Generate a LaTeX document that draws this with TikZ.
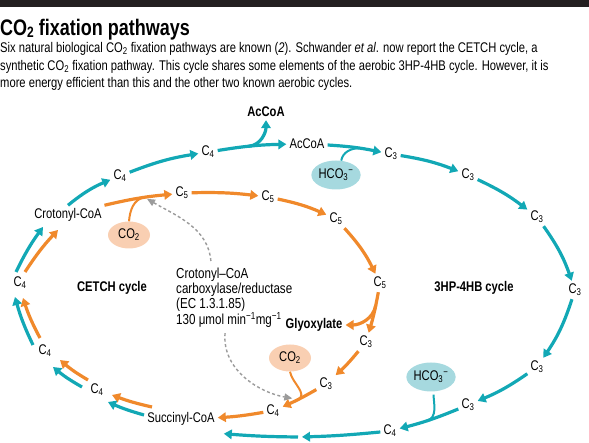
\documentclass[tikz,border=0pt]{standalone}
\usepackage{fontspec}
\setmainfont[FakeStretch=0.8]{Liberation Sans}
\usetikzlibrary{arrows.meta,shapes.geometric,calc}
\definecolor{tealc}{HTML}{12A8B5}
\definecolor{orangec}{HTML}{F0892B}
\definecolor{orfill}{HTML}{F9CFB2}
\definecolor{tefill}{HTML}{A6D9DF}
\definecolor{grayc}{HTML}{9B9B9B}
\definecolor{barc}{HTML}{231F20}
\tikzset{
  lab/.style={font=\fontsize{14}{16}\selectfont, inner sep=3pt},
  blab/.style={font=\fontsize{14}{16}\selectfont\bfseries, inner sep=3pt},
  tarrow/.style={draw=tealc, line width=3.2pt, -{Triangle[length=8pt,width=9.5pt]}},
  oarrow/.style={draw=orangec, line width=3.2pt, -{Triangle[length=8pt,width=9.5pt]}},
  tfeed/.style={draw=tealc, line width=2pt},
  ofeed/.style={draw=orangec, line width=2pt},
  grayarrow/.style={draw=grayc, line width=1.4pt, dash pattern=on 3pt off 2.5pt, -{Triangle[length=8pt,width=7pt]}},
  orell/.style={ellipse, fill=orfill, minimum width=42pt, minimum height=27pt, inner sep=0pt, font=\fontsize{14}{16}\selectfont},
  teell/.style={ellipse, fill=tefill, minimum width=48pt, minimum height=29pt, inner sep=0pt, font=\fontsize{14}{16}\selectfont},
}
\begin{document}
\begin{tikzpicture}[x=1pt,y=1pt]
\useasboundingbox (0,0) rectangle (589,443);
% header
\fill[barc] (0,436) rectangle (589,443);
\node[anchor=base west, inner sep=0pt, font=\fontsize{22.5}{24}\selectfont\bfseries] (title) at (0,407) {CO{\fontsize{15}{15}\selectfont\raisebox{-1.5pt}{2}} fixation pathways};
\node[anchor=north west, inner sep=0pt, align=left, font=\fontsize{14}{17.3}\selectfont] (para) at (0,400.5) {Six natural biological CO\textsubscript{2} fixation pathways are known (\textit{2}). Schwander \textit{et al}. now report the CETCH cycle, a\\synthetic CO\textsubscript{2} fixation pathway. This cycle shares some elements of the aerobic 3HP-4HB cycle. However, it is\\more energy efficient than this and the other two known aerobic cycles.};
% nodes
\node[lab] (crot) at (68,228) {Crotonyl-CoA};
\node[lab] (c4a) at (120,267) {C\textsubscript{4}};
\node[lab] (c4b) at (208,291) {C\textsubscript{4}};
\node[blab] (accoaB) at (266,331) {AcCoA};
\node[lab] (accoa) at (307,299) {AcCoA};
\node[lab] (c3a) at (391,289) {C\textsubscript{3}};
\node[teell] (hco3a) at (336,268) {HCO\textsubscript{3}\textsuperscript{−}};
\node[lab] (c3b) at (468,268) {C\textsubscript{3}};
\node[lab] (c3c) at (537,226) {C\textsubscript{3}};
\node[lab] (c3d) at (575,153) {C\textsubscript{3}};
\node[lab] (c3e) at (537,76) {C\textsubscript{3}};
\node[lab] (c3f) at (468,38) {C\textsubscript{3}};
\node[teell] (hco3b) at (431,66) {HCO\textsubscript{3}\textsuperscript{−}};
\node[lab] (c4c) at (390,12) {C\textsubscript{4}};
\coordinate (mid) at (300,6);
\node[lab] (succ) at (181,24) {Succinyl-CoA};
\node[lab] (c4d) at (273,32) {C\textsubscript{4}};
\node[lab] (c3g) at (326,59) {C\textsubscript{3}};
\node[lab] (c3h) at (366,101) {C\textsubscript{3}};
\node[orell] (co2b) at (290,85) {CO\textsubscript{2}};
\node[blab] (glyox) at (314,118) {Glyoxylate};
\node[lab] (c5a) at (380,160) {C\textsubscript{5}};
\node[lab] (c5b) at (336,224) {C\textsubscript{5}};
\node[lab] (c5c) at (268,246) {C\textsubscript{5}};
\node[lab] (c5d) at (182,250) {C\textsubscript{5}};
\node[orell] (co2a) at (129,208) {CO\textsubscript{2}};
\node[lab] (c4L) at (20,160) {C\textsubscript{4}};
\node[lab] (c4m) at (45,92) {C\textsubscript{4}};
\node[lab] (c4n) at (97,53) {C\textsubscript{4}};
\node[blab] (cetch) at (112,155) {CETCH cycle};
\node[blab] (hp4) at (474,155) {3HP-4HB cycle};
\node[lab, align=left, anchor=north west, font=\fontsize{14.5}{15}\selectfont] (enz) at (173,178) {Crotonyl–CoA\\carboxylase/reductase\\(EC 1.3.1.85)\\130 μmol min\textsuperscript{−1}mg\textsuperscript{−1}};
% teal outer cycle
\draw[tarrow] (crot.north) to[bend left=8] (c4a);
\draw[tarrow] (c4a) to[bend left=6] (c4b);
\draw[tarrow] (c4b) to[bend left=4] coordinate[pos=0.45] (brA) (accoa);
\draw[tarrow] (brA) to[out=5, in=-90] (accoaB);
\draw[tarrow] (accoa) to[bend left=4] coordinate[pos=0.6] (mA) (c3a);
\draw[tfeed] (hco3a.70) to[out=80, in=180] (mA);
\draw[tarrow] (c3a) to[bend left=6] (c3b);
\draw[tarrow] (c3b) to[bend left=6] (c3c);
\draw[tarrow] (c3c) to[bend left=8] (c3d);
\draw[tarrow] (c3d) to[bend left=8] (c3e);
\draw[tarrow] (c3e) to[bend left=6] (c3f);
\draw[tarrow] (c3f) to[bend left=4] coordinate[pos=0.55] (mB) (c4c);
\draw[tfeed, shorten <=3pt] (hco3b.-80) to[out=-90, in=16] (mB);
\draw[tarrow, shorten >=2pt] (c4c) to[bend left=2] (mid);
\draw[tarrow, shorten <=2pt] (mid) to[bend left=2] ([xshift=6pt,yshift=-5pt]succ.south east);
% orange inner cycle
\draw[oarrow] (crot) to[bend left=4] coordinate[pos=0.6] (mC) (c5d);
\draw[ofeed] (co2a.north) to[out=85, in=190] (mC);
\draw[oarrow] (c5d) to[bend left=4] (c5c);
\draw[oarrow] (c5c) to[bend left=6] (c5b);
\draw[oarrow] (c5b) to[bend left=8] (c5a);
\draw[oarrow] (c5a) to[bend left=3] coordinate[pos=0.3] (brG) (c3h);
\draw[oarrow] (brG) to[out=-100, in=0] (glyox);
\draw[oarrow] (c3h) to[bend left=4] (c3g);
\draw[oarrow] (c3g) to[bend left=3] coordinate[pos=0.55] (mD) (c4d);
\draw[ofeed] (co2b.south) to[out=-80, in=30] (mD);
\draw[oarrow] (c4d) to[bend left=3] (succ);
% shared left side
\draw[oarrow] ($(succ)+(-29,12)$) to[bend left=4] ($(c4n)+(15,-5)$);
\draw[tarrow] ($(succ)+(-37,4)$) to[bend left=4] ($(c4n)+(11,-12)$);
\draw[oarrow] ($(c4n)+(-9,10)$) to[bend left=5] ($(c4m)+(15,-9)$);
\draw[tarrow] ($(c4n)+(-15,3)$) to[bend left=5] ($(c4m)+(8,-16)$);
\draw[oarrow] ($(c4m)+(-5,13)$) to[bend left=5] ($(c4L)+(3,-15)$);
\draw[tarrow] ($(c4m)+(-12,6)$) to[bend left=5] ($(c4L)+(-5,-14)$);
\draw[oarrow] ($(c4L)+(5,11)$) to[bend left=5] ($(crot)+(-10,-15)$);
\draw[tarrow] ($(c4L)+(-4,11)$) to[bend left=5] ($(crot)+(-25,-12)$);
% enzyme pointers
\draw[grayarrow, shorten <=4pt, shorten >=3pt] ([xshift=-23pt]enz.north) to[out=95, in=-30] (mC);
\draw[grayarrow, shorten <=2pt, shorten >=6pt] ([xshift=-9pt]enz.south) to[out=-95, in=170] (mD);
\end{tikzpicture}
\end{document}
